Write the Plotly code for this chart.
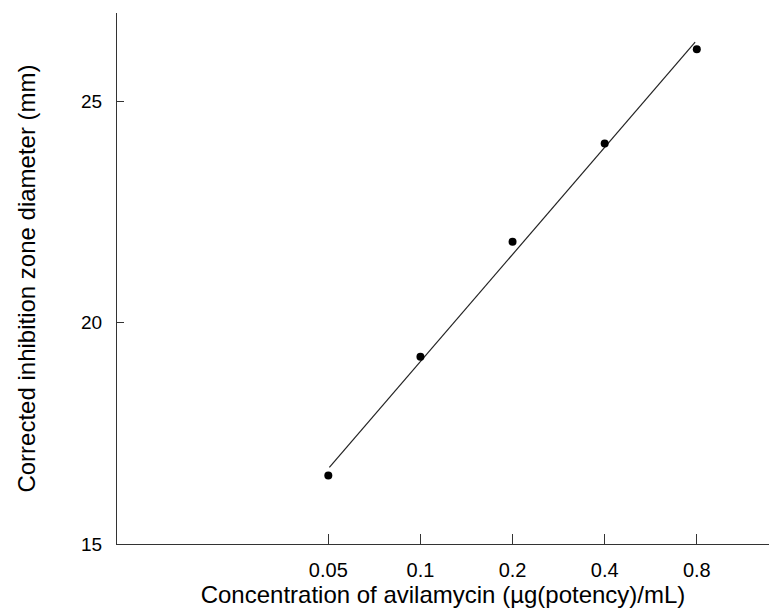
import plotly.graph_objects as go

# Data
conc = [0.05, 0.1, 0.2, 0.4, 0.8]
zone = [16.55, 19.23, 21.83, 24.05, 26.18]

fit_x = [0.0504, 0.79]
fit_y = [16.73, 26.34]

x_tickvals = [0.05, 0.1, 0.2, 0.4, 0.8]
x_ticktext = ["0.05", "0.1", "0.2", "0.4", "0.8"]
y_tickvals = [15, 20, 25]

font = "Liberation Sans, Arial, sans-serif"

fig = go.Figure()
fig.add_trace(go.Scatter(x=fit_x, y=fit_y, mode="lines",
                         line=dict(color="#222222", width=1.2),
                         showlegend=False, hoverinfo="skip"))
fig.add_trace(go.Scatter(x=conc, y=zone, mode="markers",
                         marker=dict(color="black", size=8),
                         showlegend=False))

fig.update_layout(
    width=769, height=613,
    margin=dict(l=117, r=0, t=13, b=69, autoexpand=False),
    paper_bgcolor="white", plot_bgcolor="white",
    font=dict(family=font, size=18, color="black"),
    xaxis=dict(
        type="log", range=[-1.9915, 0.139],
        tickvals=x_tickvals, ticktext=x_ticktext,
        ticks="inside", ticklen=10, tickcolor="#333333", tickwidth=1,
        showline=True, linecolor="#333333", linewidth=1,
        showgrid=False, zeroline=False, automargin=False,
        ticklabelstandoff=8,
        tickfont=dict(size=20),
        title=dict(text="Concentration of avilamycin (µg(potency)/mL)",
                   font=dict(size=24), standoff=4),
    ),
    yaxis=dict(
        range=[15, 27],
        tickvals=y_tickvals,
        ticks="inside", ticklen=7, tickcolor="#333333", tickwidth=1,
        showline=True, linecolor="#333333", linewidth=1,
        showgrid=False, zeroline=False, automargin=False,
        ticklabelstandoff=10,
        tickfont=dict(size=19),
        title=dict(text="Corrected inhibition zone diameter (mm)",
                   font=dict(size=24), standoff=38),
    ),
)

fig.write_html(
    "out.html",
    config={"displayModeBar": False},
    post_script="document.body.style.margin='0';document.body.style.overflow='hidden';",
)
